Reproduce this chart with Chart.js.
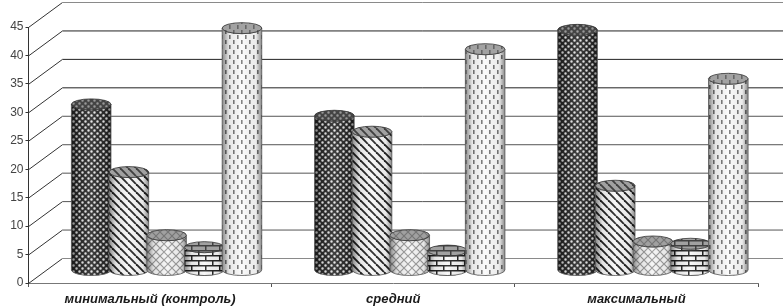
<!DOCTYPE html>
<html>
<head>
<meta charset="utf-8">
<style>
    html, body { margin: 0; padding: 0; background: #fff; }
    #wrap { width: 783px; height: 308px; }
</style>
<script src="https://cdn.jsdelivr.net/npm/chart.js@4/dist/chart.umd.min.js"></script>
</head>
<body>
<div id="wrap"><canvas id="chart"></canvas></div>
<script>
const categories = ['минимальный (контроль)', 'средний', 'максимальный'];
const series1 = [29.2, 27.2, 42.3];
const series2 = [17.3, 24.4, 14.9];
const series3 = [6.2, 6.2, 5.1];
const series4 = [4.1, 3.5, 4.7];
const series5 = [42.6, 38.9, 33.7];
const yTicks = [0, 5, 10, 15, 20, 25, 30, 35, 40, 45];

// Depth of the fake 3D box and where the columns stand in it
const wallShift = { x: 34, y: -25 };
const barShift = { x: 16.5, y: -12.5 };
const capHeight = 5.5;

function makeTile(w, h, paint) {
    const c = document.createElement('canvas');
    c.width = w;
    c.height = h;
    paint(c.getContext('2d'));
    return document.createElement('canvas').getContext('2d').createPattern(c, 'repeat');
}

const patterns = [
    makeTile(6, 6, g => {
        g.fillStyle = '#2a2a2a';
        g.fillRect(0, 0, 6, 6);
        g.fillStyle = '#e4e4e4';
        g.beginPath();
        g.arc(1.5, 1.5, 1.25, 0, Math.PI * 2);
        g.arc(4.5, 4.5, 1.25, 0, Math.PI * 2);
        g.fill();
    }),
    makeTile(8, 8, g => {
        g.fillStyle = '#f8f8f8';
        g.fillRect(0, 0, 8, 8);
        g.strokeStyle = '#222';
        g.lineWidth = 1.9;
        [-8, 0, 8].forEach(o => {
            g.beginPath();
            g.moveTo(o, 0);
            g.lineTo(o + 8, 8);
            g.stroke();
        });
    }),
    makeTile(8, 8, g => {
        g.fillStyle = '#f6f6f6';
        g.fillRect(0, 0, 8, 8);
        g.strokeStyle = '#999';
        g.lineWidth = 1.2;
        g.beginPath();
        g.moveTo(0, 0);
        g.lineTo(8, 8);
        g.moveTo(8, 0);
        g.lineTo(0, 8);
        g.stroke();
    }),
    makeTile(14, 10, g => {
        g.fillStyle = '#f8f8f8';
        g.fillRect(0, 0, 14, 10);
        g.fillStyle = '#222';
        g.fillRect(0, 0, 14, 1.5);
        g.fillRect(0, 5, 14, 1.5);
        g.fillRect(2, 0, 1.5, 5);
        g.fillRect(9, 5, 1.5, 5);
    }),
    makeTile(8, 10, g => {
        g.fillStyle = '#fbfbfb';
        g.fillRect(0, 0, 8, 10);
        g.fillStyle = '#777';
        g.fillRect(1, 0, 1.6, 4);
        g.fillRect(5, 5, 1.6, 4);
    })
];

function cylinderPath(ctx, x, w, top, bottom) {
    ctx.beginPath();
    ctx.moveTo(x - w / 2, top);
    ctx.lineTo(x - w / 2, bottom);
    ctx.ellipse(x, bottom, w / 2, capHeight, 0, Math.PI, 0, true);
    ctx.lineTo(x + w / 2, top);
    ctx.ellipse(x, top, w / 2, capHeight, 0, 0, Math.PI, false);
    ctx.closePath();
}

const boxPlugin = {
    id: 'box',
    beforeDatasetsDraw(chart) {
        const { ctx, chartArea, scales } = chart;
        ctx.save();
        yTicks.forEach(t => {
            const y = scales.y.getPixelForValue(t);
            ctx.lineWidth = 1;
            // side wall diagonal
            ctx.strokeStyle = '#333';
            ctx.beginPath();
            ctx.moveTo(chartArea.left, y + 0.5);
            ctx.lineTo(chartArea.left + wallShift.x, y + wallShift.y + 0.5);
            ctx.stroke();
            // back wall line
            ctx.strokeStyle = (t === 0 || t === 45) ? '#8a8a8a' : (t >= 30 ? '#222' : '#555');
            ctx.beginPath();
            ctx.moveTo(chartArea.left + wallShift.x, y + wallShift.y + 0.5);
            ctx.lineTo(chart.width, y + wallShift.y + 0.5);
            ctx.stroke();
        });
        ctx.restore();
    },
    afterDatasetsDraw(chart) {
        const { ctx } = chart;
        ctx.save();
        chart.data.labels.forEach((label, c) => {
            chart.data.datasets.forEach((ds, d) => {
                const bar = chart.getDatasetMeta(d).data[c];
                const x = bar.x + barShift.x;
                const w = bar.width;
                const top = bar.y + barShift.y;
                const bottom = bar.base + barShift.y;

                cylinderPath(ctx, x, w, top, bottom);
                ctx.fillStyle = patterns[d];
                ctx.fill();

                // round shading across the column
                const shade = ctx.createLinearGradient(x - w / 2, 0, x + w / 2, 0);
                shade.addColorStop(0, 'rgba(0,0,0,0.45)');
                shade.addColorStop(0.18, 'rgba(0,0,0,0.08)');
                shade.addColorStop(0.5, 'rgba(255,255,255,0.1)');
                shade.addColorStop(0.85, 'rgba(0,0,0,0.06)');
                shade.addColorStop(1, 'rgba(0,0,0,0.45)');
                ctx.fillStyle = shade;
                ctx.fill();
                ctx.strokeStyle = '#555';
                ctx.lineWidth = 0.8;
                ctx.stroke();

                // top cap
                ctx.beginPath();
                ctx.ellipse(x, top, w / 2, capHeight, 0, 0, Math.PI * 2);
                ctx.fillStyle = patterns[d];
                ctx.fill();
                ctx.fillStyle = 'rgba(90,90,90,0.55)';
                ctx.fill();
                ctx.strokeStyle = '#333';
                ctx.stroke();
            });
        });
        ctx.restore();
    }
};

new Chart(document.getElementById('chart'), {
    type: 'bar',
    data: {
        labels: categories,
        datasets: [series1, series2, series3, series4, series5].map((values, i) => ({
            label: 'series ' + (i + 1),
            data: values,
            backgroundColor: 'transparent',
            borderWidth: 0,
            barPercentage: 1.05,
            categoryPercentage: 0.775
        }))
    },
    options: {
        responsive: true,
        maintainAspectRatio: false,
        animation: false,
        layout: { padding: { left: 0, right: 25, top: 27, bottom: 0 } },
        plugins: { legend: { display: false }, tooltip: { enabled: false } },
        scales: {
            x: {
                afterFit: s => { s.height = 25; },
                border: { color: '#777' },
                grid: { drawOnChartArea: false, tickLength: 4, color: '#555' },
                ticks: {
                    color: '#1a1a1a',
                    padding: 5,
                    maxRotation: 0,
                    autoSkip: false,
                    font: { family: '"Liberation Sans", Arial, sans-serif', size: 13, weight: 'bold', style: 'italic' }
                }
            },
            y: {
                min: 0,
                max: 45,
                afterFit: s => { s.width = 28.5; },
                afterBuildTicks: s => { s.ticks = yTicks.map(v => ({ value: v })); },
                border: { color: '#333' },
                grid: { drawOnChartArea: false, tickLength: 3, color: '#333' },
                ticks: {
                    color: '#444',
                    padding: 2,
                    font: { family: '"Liberation Sans", Arial, sans-serif', size: 12 }
                }
            }
        }
    },
    plugins: [boxPlugin]
});
</script>
</body>
</html>
